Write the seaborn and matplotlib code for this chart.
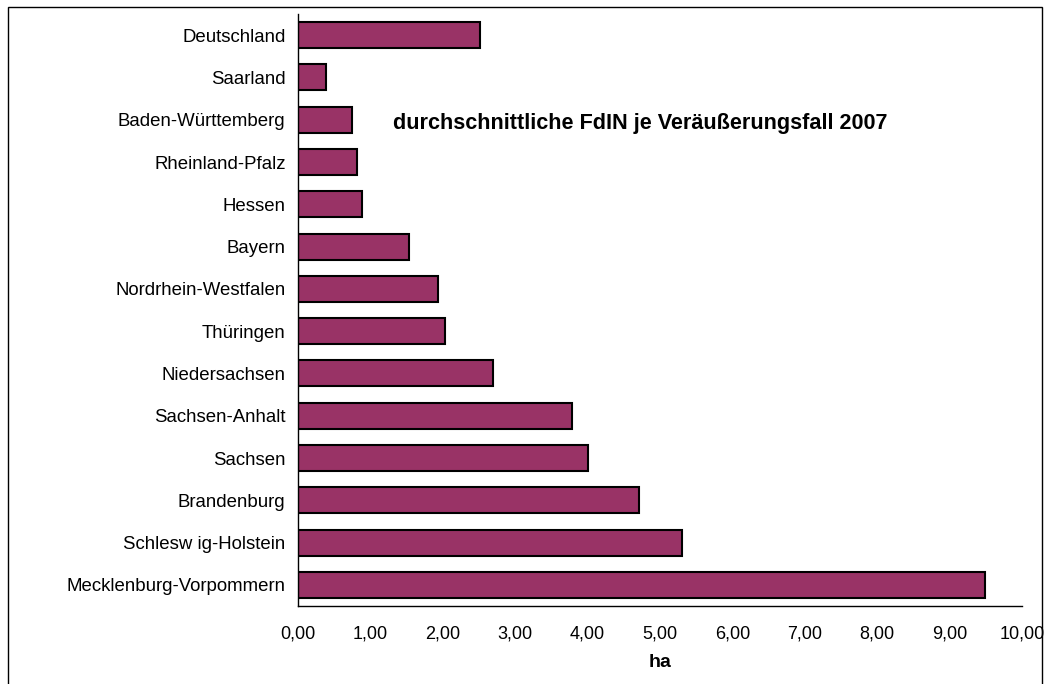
from matplotlib import pyplot as plt
from matplotlib.patches import Rectangle
import seaborn as sns
import pandas as pd

# Data (ha per sale, 2007)
laender = ["Deutschland", "Saarland", "Baden-Württemberg", "Rheinland-Pfalz",
           "Hessen", "Bayern", "Nordrhein-Westfalen", "Thüringen",
           "Niedersachsen", "Sachsen-Anhalt", "Sachsen", "Brandenburg",
           "Schlesw ig-Holstein", "Mecklenburg-Vorpommern"]
flaeche = [2.52, 0.38, 0.74, 0.81, 0.88, 1.54, 1.94, 2.03,
           2.69, 3.78, 4.01, 4.71, 5.30, 9.49]
xticks = [0, 1, 2, 3, 4, 5, 6, 7, 8, 9, 10]

df = pd.DataFrame({"Land": laender, "ha": flaeche})

sns.set_style("white")
plt.rcParams["font.family"] = ["Liberation Sans", "DejaVu Sans"]
plt.rcParams["text.color"] = "black"
plt.rcParams["xtick.color"] = "black"
plt.rcParams["ytick.color"] = "black"
plt.rcParams["axes.labelcolor"] = "black"

fig = plt.figure(figsize=(10.47, 6.84), dpi=100)
ax = fig.add_axes([298 / 1047, 78 / 684, 724 / 1047, 592 / 684])

sns.barplot(data=df, x="ha", y="Land", orient="h", color="#993366",
            saturation=1, edgecolor="black", linewidth=1.5, width=0.615, ax=ax)

ax.set_xlim(0, 10)
ax.set_ylim(len(laender) - 0.5, -0.5)
ax.set_xticks(xticks)
ax.set_xticklabels([f"{v:.2f}".replace(".", ",") for v in xticks], fontsize=13)

# tick marks between categories, labels centred on bars
ax.set_yticks(range(len(laender)))
ax.set_yticklabels(laender, fontsize=13.4)
ax.set_yticks([i - 0.5 for i in range(len(laender) + 1)], minor=True)
ax.tick_params(axis="y", which="major", length=0, pad=9)
ax.tick_params(axis="y", which="minor", length=5, width=1, color="black", direction="out")
ax.tick_params(axis="x", length=4, width=1, color="black", direction="out", pad=10)

for s in ["top", "right"]:
    ax.spines[s].set_visible(False)
for s in ["left", "bottom"]:
    ax.spines[s].set_color("black")
    ax.spines[s].set_linewidth(1)

ax.set_ylabel("")
ax.set_xlabel("ha", fontsize=14, fontweight="bold", labelpad=8)

fig.text(640 / 1047, 1 - 124 / 684, "durchschnittliche FdIN je Veräußerungsfall 2007",
         fontsize=15.6, fontweight="bold", ha="center", va="center")

# outer frame
fig.patches.append(Rectangle((8 / 1047, -0.05), 1034 / 1047, 1.05 - 7 / 684,
                             transform=fig.transFigure, fill=False,
                             edgecolor="black", linewidth=1))

plt.savefig("out.png", dpi=100)
